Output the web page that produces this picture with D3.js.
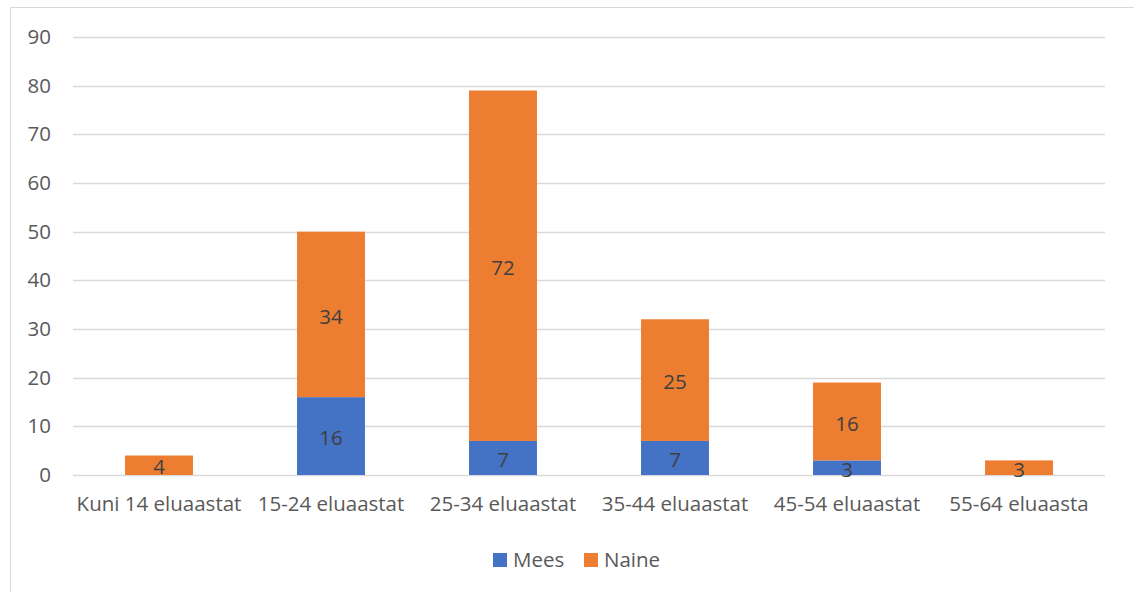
<!DOCTYPE html>
<meta charset="utf-8">
<script src="https://d3js.org/d3.v7.min.js"></script>
<style>
  body { margin: 0; background: #fff; }
  text { font-family: "Open Sans", sans-serif; }
</style>
<div id="chart"></div>
<script>
// andmed
var categories = ["Kuni 14 eluaastat", "15-24 eluaastat", "25-34 eluaastat", "35-44 eluaastat", "45-54 eluaastat", "55-64 eluaasta"];
var mees = [0, 16, 7, 7, 3, 0];
var naine = [4, 34, 72, 25, 16, 3];
var yTicks = [0, 10, 20, 30, 40, 50, 60, 70, 80, 90];
var seriesNames = ["Mees", "Naine"];
var colors = ["#4472C4", "#ED7D31"];

var W = 1134, H = 592;
var margin = {top: 37, right: 29, bottom: 117, left: 73},
    width = W - margin.left - margin.right,
    height = H - margin.top - margin.bottom;
var fs = "20.5px";

var svg = d3.select("#chart").append("svg")
    .attr("width", W).attr("height", H);

// raam
svg.append("rect")
    .attr("x", 10.5).attr("y", 7.5)
    .attr("width", 1140).attr("height", 600)
    .attr("fill", "none").attr("stroke", "#d9d9d9");

var g = svg.append("g")
    .attr("transform", "translate(" + margin.left + "," + margin.top + ")");

var x = d3.scaleBand().domain(categories).range([0, width]).paddingInner(0.605).paddingOuter(0.3025);
var y = d3.scaleLinear().domain([0, 90]).range([height, 0]);

// ruudustik
g.selectAll(".grid").data(yTicks).enter().append("line")
    .attr("x1", 0).attr("x2", width)
    .attr("y1", function(d) { return Math.round(y(d)) + 0.5; })
    .attr("y2", function(d) { return Math.round(y(d)) + 0.5; })
    .attr("stroke", "#d9d9d9").attr("stroke-width", 1.3);

// y telg
var yAxis = g.append("g").call(d3.axisLeft(y).tickValues(yTicks).tickSize(0).tickPadding(22));
yAxis.select(".domain").remove();
yAxis.selectAll("text").attr("fill", "#595959").style("font-size", fs);

// x telg
var xAxis = g.append("g").attr("transform", "translate(0," + height + ")")
    .call(d3.axisBottom(x).tickSize(0).tickPadding(21));
xAxis.select(".domain").remove();
xAxis.selectAll("text").attr("fill", "#595959").style("font-size", fs);

// virnastatud tulbad
var rows = categories.map(function(c, i) { return {cat: c, Mees: mees[i], Naine: naine[i]}; });
var stack = d3.stack().keys(seriesNames)(rows);

var layers = g.selectAll(".layer").data(stack).enter().append("g")
    .attr("fill", function(d, i) { return colors[i]; });

layers.selectAll("rect").data(function(d) { return d; }).enter().append("rect")
    .attr("x", function(d) { return x(d.data.cat); })
    .attr("y", function(d) { return y(d[1]); })
    .attr("width", x.bandwidth())
    .attr("height", function(d) { return y(d[0]) - y(d[1]); });

// väärtused
layers.selectAll("text").data(function(d) { return d; }).enter()
    .filter(function(d) { return d[1] - d[0] > 0; })
    .append("text")
    .attr("x", function(d) { return x(d.data.cat) + x.bandwidth() / 2; })
    .attr("y", function(d) { return (y(d[0]) + y(d[1])) / 2 + 2; })
    .attr("dy", "0.35em")
    .attr("text-anchor", "middle")
    .attr("fill", "#404040")
    .style("font-size", fs)
    .text(function(d) { return d[1] - d[0]; });

// legend
var legend = svg.append("g").attr("transform", "translate(493,553)");
var lx = [0, 91];
seriesNames.forEach(function(s, i) {
  legend.append("rect").attr("x", lx[i]).attr("y", 0).attr("width", 14).attr("height", 14).attr("fill", colors[i]);
  legend.append("text").attr("x", lx[i] + 20).attr("y", 7).attr("dy", "0.35em")
    .attr("fill", "#595959").style("font-size", fs).text(s);
});
</script>
